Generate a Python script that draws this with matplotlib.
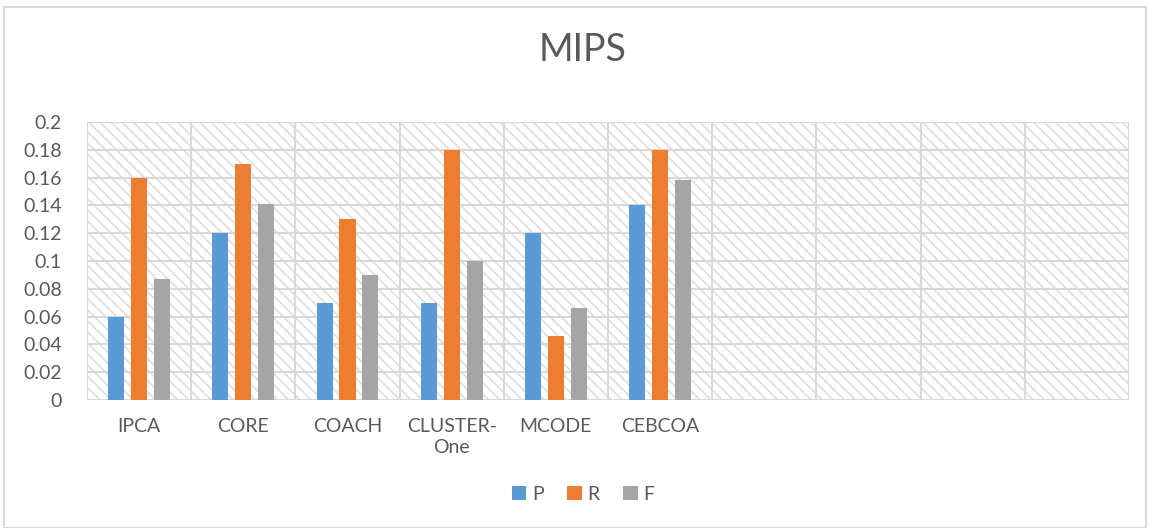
import numpy as np
import matplotlib.pyplot as plt
from matplotlib.patches import Rectangle

categories = ['IPCA', 'CORE', 'COACH', 'CLUSTER-\nOne', 'MCODE', 'CEBCOA', '', '', '', '']
P = [0.06, 0.12, 0.07, 0.07, 0.12, 0.14]
R = [0.16, 0.17, 0.13, 0.18, 0.046, 0.18]
F = [0.087, 0.141, 0.09, 0.1, 0.066, 0.158]
yticks = [0, 0.02, 0.04, 0.06, 0.08, 0.1, 0.12, 0.14, 0.16, 0.18, 0.2]
ytick_labels = ['0', '0.02', '0.04', '0.06', '0.08', '0.1', '0.12', '0.14', '0.16', '0.18', '0.2']

plt.rcParams['font.family'] = ['Lato', 'DejaVu Sans']
plt.rcParams['hatch.linewidth'] = 1.2
plt.rcParams['hatch.color'] = '#dedede'

txt = '#595959'
grid = '#d9d9d9'

fig = plt.figure(figsize=(11.5, 5.28), dpi=100)
ax = fig.add_axes([87/1150, 1 - 400/528, (1129 - 87)/1150, (400 - 122)/528])

# hatched plot area
ax.add_patch(Rectangle((0, 0), 1, 1, transform=ax.transAxes, facecolor='white',
                       edgecolor='#dedede', hatch='\\\\\\', lw=0, zorder=0))

n = len(categories)
x = np.arange(n)
w = 0.155
off = 0.22
ax.bar(x[:len(P)] - off, P, w, color='#5B9BD5', label='P', zorder=3)
ax.bar(x[:len(R)], R, w, color='#ED7D31', label='R', zorder=3)
ax.bar(x[:len(F)] + off, F, w, color='#A5A5A5', label='F', zorder=3)

ax.set_xlim(-0.5, n - 0.5)
ax.set_ylim(0, 0.2)
ax.set_yticks(yticks)
ax.set_yticklabels(ytick_labels)
ax.set_xticks(x)
ax.set_xticklabels(categories, linespacing=1.25)

for v in yticks:
    ax.axhline(v, color=grid, lw=1.5, zorder=1)
for v in np.arange(n + 1) - 0.5:
    ax.axvline(v, color=grid, lw=1.5, zorder=1)

for s in ax.spines.values():
    s.set_visible(False)
ax.tick_params(axis='both', which='both', length=0, colors=txt, labelsize=14)
ax.tick_params(axis='x', pad=13)
ax.tick_params(axis='y', pad=18)

fig.text(583/1150, 1 - 50/528, 'MIPS', ha='center', va='center', fontsize=27, color=txt)

fig.legend(loc='center', bbox_to_anchor=(583/1150, 1 - 494/528), ncol=3, frameon=False,
           fontsize=14, handlelength=0.75, handleheight=0.75, handletextpad=0.3,
           columnspacing=1.2, labelcolor=txt)

fig.patches.append(Rectangle((4/1150, 0), 1 - 8/1150, 1 - 7/528, transform=fig.transFigure,
                             fill=False, edgecolor='#d9d9d9', lw=1.5))

fig.savefig('out.png', dpi=100)
